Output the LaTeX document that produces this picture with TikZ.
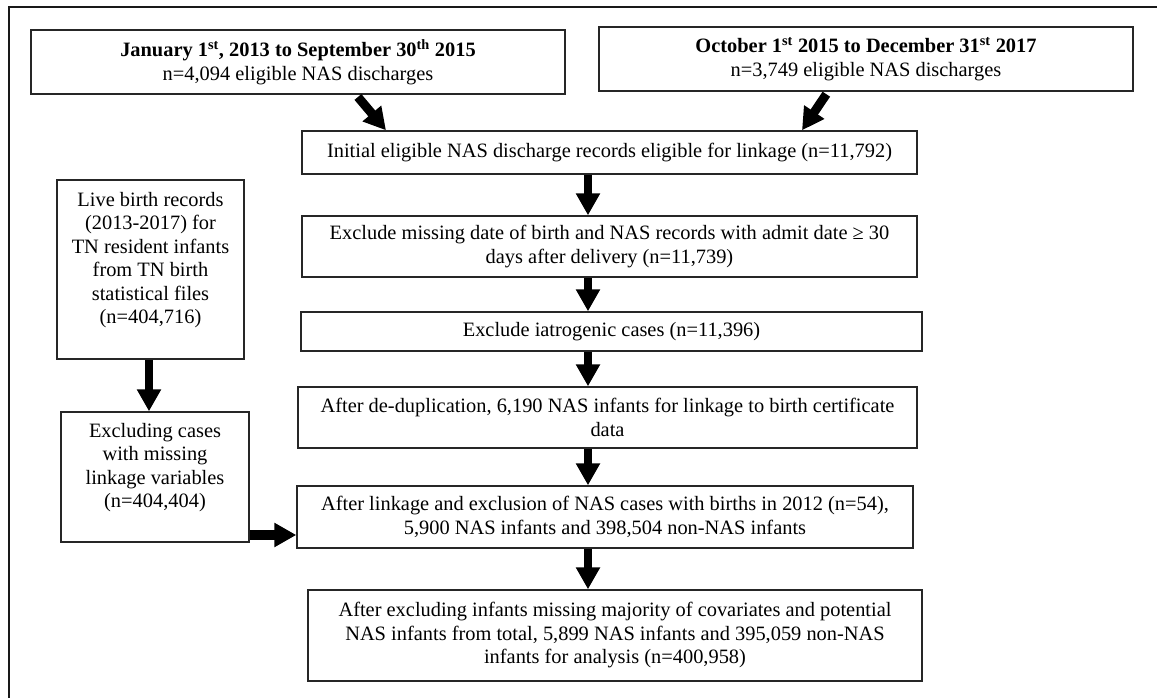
\documentclass[tikz,border=0pt]{standalone}
\usepackage{fontspec}
\setmainfont{Liberation Serif}
\usetikzlibrary{arrows.meta}
\begin{document}
\begin{tikzpicture}[x=1pt,y=-1pt,
  txt/.style={align=center, inner sep=0pt, font=\fontsize{20.4}{23.5}\selectfont},
  box/.style={txt, draw=black!85, line width=1.4pt},
  arr/.style={line width=8pt, -{Triangle[width=23pt,length=22pt]}},
  frame/.style={line width=2.5pt, draw=black!90}]
\useasboundingbox (0,0) rectangle (1157,698);
\draw[frame] (9,698) -- (9,7) -- (1157,7);

\node[box, minimum width=534pt, minimum height=64pt] (A) at (298,62)
  {\textbf{January 1\textsuperscript{st}, 2013 to September 30\textsuperscript{th} 2015}\\ n=4,094 eligible NAS discharges};
\node[box, minimum width=534pt, minimum height=64pt] (B) at (866,59)
  {\textbf{October 1\textsuperscript{st} 2015 to December 31\textsuperscript{st} 2017}\\ n=3,749 eligible NAS discharges};
\node[box, minimum width=615pt, minimum height=43pt] (C) at (609.5,152.5)
  {Initial eligible NAS discharge records eligible for linkage (n=11,792)};
\node[box, minimum width=187pt, minimum height=179pt] (D) at (150.5,269.5)
  {Live birth records\\(2013-2017) for\\TN resident infants\\from TN birth\\statistical files\\(n=404,716)\\\mbox{}};
\node[box, minimum width=615pt, minimum height=61pt] (E) at (609.5,246.5)
  {Exclude missing date of birth and NAS records with admit date ≥ 30\\days after delivery (n=11,739)};
\node[box, minimum width=621pt, minimum height=39pt] (F) at (611.5,331.5)
  {Exclude iatrogenic cases (n=11,396)};
\node[box, minimum width=619pt, minimum height=61pt] (G) at (607.5,417.5)
  {After de-duplication, 6,190 NAS infants for linkage to birth certificate\\data};
\node[box, minimum width=188pt, minimum height=130pt] (X) at (155,477)
  {Excluding cases\\with missing\\linkage variables\\(n=404,404)\\\mbox{}};
\node[box, minimum width=616pt, minimum height=62pt] (H) at (605,517)
  {After linkage and exclusion of NAS cases with births in 2012 (n=54),\\5,900 NAS infants and 398,504 non-NAS infants};
\node[box, minimum width=614pt, minimum height=91pt] (I) at (615,635.5)
  {After excluding infants missing majority of covariates and potential\\NAS infants from total, 5,899 NAS infants and 395,059 non-NAS\\infants for analysis (n=400,958)};

\coordinate (a1) at (356,0);
\coordinate (a2) at (386,0);
\coordinate (b1) at (828,0);
\coordinate (b2) at (802,0);
\coordinate (ax) at (588,0);
\coordinate (dx) at (149,0);
\coordinate (hy) at (0,535);

\draw[arr, line width=9pt, shorten <=3pt] (A.south -| a1) -- (C.north -| a2);
\draw[arr, line width=9pt, shorten <=3pt] (B.south -| b1) -- (C.north -| b2);
\draw[arr] (C.south -| ax) -- (E.north -| ax);
\draw[arr] (E.south -| ax) -- (F.north -| ax);
\draw[arr] (F.south -| ax) -- (G.north -| ax);
\draw[arr] (G.south -| ax) -- (H.north -| ax);
\draw[arr] (H.south -| ax) -- (I.north -| ax);
\draw[arr] (D.south -| dx) -- (X.north -| dx);
\draw[arr, line width=10pt] (X.east |- hy) -- (H.west |- hy);
\end{tikzpicture}
\end{document}
